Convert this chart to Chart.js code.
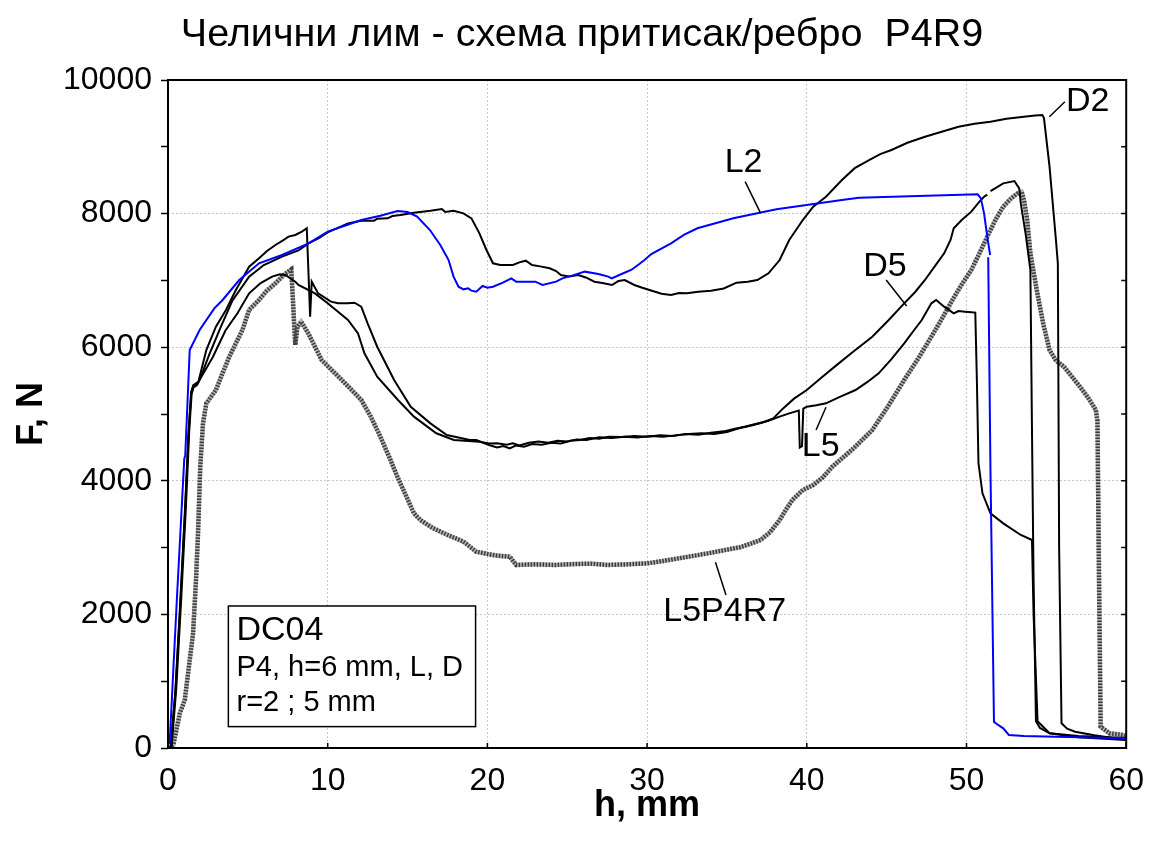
<!DOCTYPE html>
<html>
<head>
<meta charset="utf-8">
<title>Челични лим - P4R9</title>
<script src="https://cdn.jsdelivr.net/npm/chart.js@4.4.0/dist/chart.umd.min.js"></script>
<style>
  html, body { margin: 0; padding: 0; background: #fff; }
</style>
</head>
<body>
<canvas id="chart" width="1158" height="851"></canvas>
<script>
// h in mm, F in N
const l2H = [0.10, 0.55, 1.02, 1.08, 1.36, 1.98, 2.90, 3.42, 4.46, 5.70, 7.14, 8.80, 10.00, 11.20, 12.10, 13.30, 14.37, 15.00, 15.60, 16.40, 17.05, 17.57, 17.88, 18.19, 18.50, 18.80, 19.00, 19.30, 19.70, 20.00, 20.35, 20.97, 21.50, 21.80, 22.40, 23.00, 23.45, 24.30, 24.70, 25.30, 26.10, 26.95, 27.57, 27.78, 28.40, 29.00, 29.43, 29.84, 30.26, 31.50, 32.30, 33.15, 35.40, 38.10, 42.20, 43.26, 50.70, 50.90, 51.10, 51.30, 51.48, 51.42, 51.36, 51.50, 51.72, 51.83, 52.30, 52.65, 53.60, 55.60, 60.00];
const l2F = [60, 2200, 4330, 4380, 5958, 6257, 6582, 6707, 7006, 7256, 7380, 7555, 7730, 7830, 7904, 7969, 8039, 8024, 7954, 7754, 7530, 7305, 7056, 6906, 6866, 6881, 6846, 6831, 6916, 6890, 6906, 6966, 7031, 6981, 6981, 6981, 6931, 6981, 7031, 7071, 7131, 7096, 7056, 7031, 7096, 7156, 7231, 7305, 7395, 7555, 7680, 7780, 7929, 8064, 8204, 8238, 8288, 8228, 8004, 7655, 7380, null, 7345, 4162, 394, 370, 295, 195, 180, 170, 145];

const d2H = [0.15, 0.45, 0.75, 1.05, 1.28, 1.45, 1.60, 1.85, 2.20, 2.60, 3.30, 4.04, 5.08, 6.00, 7.14, 8.17, 8.80, 9.50, 10.00, 11.27, 12.10, 12.90, 13.10, 13.75, 14.05, 14.57, 15.40, 16.43, 17.15, 17.36, 17.88, 18.50, 19.00, 19.50, 19.94, 20.35, 20.80, 21.60, 22.00, 22.40, 22.80, 23.30, 23.90, 24.30, 24.60, 25.10, 25.70, 26.20, 26.70, 27.20, 27.80, 28.20, 28.60, 29.20, 29.70, 30.30, 30.90, 31.50, 32.00, 32.50, 33.20, 34.00, 34.80, 35.60, 36.30, 36.90, 37.60, 38.30, 38.90, 39.75, 40.40, 41.20, 42.20, 43.00, 43.90, 44.60, 45.30, 46.30, 47.40, 48.50, 49.50, 50.50, 51.50, 52.50, 53.60, 54.30, 54.75, 54.85, 55.20, 55.60, 55.72, 55.75, 55.80, 55.95, 56.30, 56.80, 58.00, 60.00];
const d2F = [0, 800, 2100, 3500, 4700, 5300, 5430, 5450, 5650, 5900, 6300, 6700, 7056, 7230, 7355, 7450, 7555, 7640, 7720, 7854, 7894, 7894, 7924, 7929, 7964, 7979, 8014, 8044, 8069, 8024, 8044, 8004, 7929, 7705, 7455, 7256, 7231, 7231, 7270, 7295, 7231, 7210, 7181, 7140, 7081, 7060, 7081, 7040, 6981, 6960, 6931, 6990, 7006, 6931, 6890, 6846, 6800, 6781, 6810, 6806, 6830, 6846, 6880, 6966, 6980, 7006, 7106, 7305, 7605, 7904, 8104, 8253, 8503, 8680, 8802, 8890, 8952, 9060, 9151, 9230, 9301, 9345, 9376, 9420, 9451, 9470, 9476, 9430, 8703, 7605, 7256, 5700, 3000, 370, 290, 244, 190, 120];

const l5H = [0.18, 0.48, 0.78, 1.08, 1.30, 1.45, 1.58, 1.75, 1.90, 2.40, 3.00, 3.63, 4.25, 5.08, 5.70, 6.20, 6.73, 7.20, 7.55, 7.97, 8.38, 8.69, 8.90, 9.00, 9.40, 10.20, 10.65, 11.27, 11.68, 12.10, 12.50, 13.10, 14.16, 15.20, 16.43, 17.46, 18.90, 19.30, 20.10, 20.60, 21.00, 21.40, 21.80, 22.30, 22.80, 23.40, 24.00, 24.60, 25.20, 25.80, 26.40, 27.00, 27.60, 28.40, 29.20, 30.00, 30.80, 31.60, 32.40, 33.20, 34.00, 34.80, 35.50, 36.20, 36.90, 37.60, 38.30, 38.90, 39.50, 39.56, 39.70, 39.78, 40.00, 40.60, 41.20, 42.00, 43.05, 43.80, 44.50, 45.30, 46.10, 46.70, 47.20, 47.80, 48.10, 48.60, 49.20, 49.50, 49.90, 50.30, 50.55, 50.65, 50.75, 51.00, 51.50, 52.30, 53.40, 54.10, 54.20, 54.45, 55.20, 57.00, 60.00];
const l5F = [0, 900, 2200, 3600, 4750, 5330, 5430, 5460, 5480, 5958, 6307, 6557, 6856, 7205, 7330, 7440, 7530, 7600, 7655, 7680, 7730, 7780, 6457, 6981, 6806, 6682, 6657, 6657, 6666, 6606, 6357, 6007, 5509, 5109, 4860, 4686, 4611, 4611, 4536, 4500, 4520, 4486, 4530, 4510, 4550, 4540, 4570, 4560, 4600, 4610, 4640, 4630, 4660, 4655, 4670, 4660, 4680, 4670, 4700, 4690, 4720, 4740, 4780, 4810, 4850, 4900, 4960, 5010, 5050, 4500, 4520, 5080, 5109, 5130, 5160, 5250, 5359, 5480, 5609, 5820, 6058, 6250, 6407, 6657, 6707, 6607, 6507, 6540, 6532, 6525, 6517, 5500, 4262, 3812, 3513, 3363, 3189, 3114, 2000, 400, 220, 180, 150];

const d5H = [0.22, 0.52, 0.82, 1.12, 1.33, 1.48, 1.60, 1.80, 2.10, 2.80, 3.60, 4.35, 5.08, 5.80, 6.52, 7.00, 7.35, 7.97, 8.17, 9.20, 10.00, 11.27, 11.90, 12.30, 13.10, 14.40, 15.40, 16.80, 17.90, 19.50, 20.10, 20.60, 21.20, 21.60, 22.00, 22.60, 23.20, 23.80, 24.40, 25.00, 25.60, 26.20, 27.00, 27.80, 28.60, 29.40, 30.20, 31.00, 31.80, 32.60, 33.40, 34.20, 35.00, 35.80, 36.60, 37.30, 37.90, 38.50, 39.20, 40.00, 41.00, 42.00, 43.00, 44.10, 45.10, 46.10, 46.80, 47.40, 48.00, 48.60, 49.00, 49.20, 49.70, 50.30, 50.90, 51.10, 51.30, 51.42, 51.50, 52.30, 53.00, 53.30, 53.40, 53.70, 54.00, 54.10, 54.20, 54.35, 54.60, 55.20, 57.00, 60.00];
const d5F = [0, 900, 2200, 3600, 4750, 5300, 5400, 5430, 5560, 5850, 6250, 6507, 6806, 6960, 7056, 7090, 7081, 6981, 6931, 6806, 6657, 6407, 6207, 5908, 5559, 5210, 4960, 4711, 4611, 4586, 4560, 4561, 4540, 4560, 4530, 4570, 4590, 4570, 4600, 4590, 4620, 4610, 4650, 4640, 4660, 4650, 4670, 4660, 4680, 4700, 4710, 4700, 4730, 4790, 4840, 4880, 4935, 5080, 5230, 5359, 5560, 5758, 5950, 6157, 6400, 6657, 6830, 7006, 7206, 7405, 7605, 7780, 7904, 8029, 8204, 8253, 8285, null, 8335, 8453, 8488, 8378, 8154, 7700, 7156, 4760, 2500, 400, 300, 220, 160, 120];

const r7H = [0.10, 0.33, 0.74, 1.05, 1.30, 1.57, 1.75, 1.88, 2.02, 2.19, 2.40, 3.00, 3.40, 3.84, 4.25, 4.66, 5.08, 5.70, 6.20, 6.73, 7.20, 7.66, 7.72, 7.80, 7.97, 8.10, 8.34, 8.80, 9.62, 10.50, 11.30, 12.10, 12.70, 13.30, 13.90, 14.40, 14.90, 15.40, 15.80, 16.60, 17.50, 18.50, 19.30, 20.10, 20.60, 21.40, 21.80, 23.00, 24.20, 25.50, 26.50, 27.50, 28.80, 30.00, 31.00, 32.00, 33.00, 33.80, 34.80, 35.80, 36.50, 37.10, 37.70, 38.30, 38.70, 39.10, 39.75, 40.40, 41.00, 41.60, 42.90, 44.10, 45.10, 46.10, 47.00, 47.80, 48.40, 49.00, 49.60, 50.30, 50.80, 51.30, 51.80, 52.30, 52.80, 53.20, 53.45, 53.60, 53.80, 54.00, 54.40, 54.80, 55.20, 55.60, 56.10, 56.60, 57.10, 57.60, 58.10, 58.20, 58.30, 58.40, 58.95, 59.80, 60.00];
const r7F = [0, 45, 519, 719, 1200, 1717, 2500, 3214, 4211, 4860, 5160, 5359, 5600, 5858, 6060, 6257, 6557, 6707, 6850, 6956, 7070, 7156, 7166, 6806, 6033, 6300, 6382, 6200, 5808, 5600, 5409, 5210, 4960, 4660, 4330, 4040, 3780, 3513, 3413, 3290, 3190, 3090, 2939, 2900, 2880, 2864, 2740, 2750, 2740, 2754, 2760, 2740, 2750, 2764, 2800, 2840, 2880, 2914, 2960, 3004, 3060, 3114, 3230, 3413, 3570, 3713, 3862, 3937, 4050, 4211, 4480, 4760, 5120, 5509, 5840, 6157, 6400, 6657, 6900, 7156, 7400, 7655, 7900, 8104, 8230, 8303, 8328, 8200, 7904, 7405, 6856, 6357, 5958, 5800, 5709, 5560, 5409, 5250, 5060, 4900, 2500, 319, 220, 195, 180];

const xTicks = [0, 10, 20, 30, 40, 50, 60];
const yMax = 10000;

// curve names with their leader lines, in data units
const curveLabels = [
  { text: 'L2', at: [36.04, 8770], from: [36.14, 8478], to: [37.09, 8014] },
  { text: 'D2', at: [57.59, 9671], from: [56.16, 9675], to: [55.19, 9451] },
  { text: 'D5', at: [44.89, 7201], from: [44.97, 7006], to: [46.25, 6617] },
  { text: 'L5', at: [40.87, 4506], from: [40.58, 4760], to: [41.20, 5100] },
  { text: 'L5P4R7', at: [34.86, 2036], from: [34.94, 2290], to: [34.28, 2780] }
];

const infoBox = {
  corner1: [3.78, 2126], corner2: [19.26, 320], textX: 4.29,
  lines: [
    { text: 'DC04', y: 1617, size: 34 },
    { text: 'P4, h=6 mm, L, D', y: 1078, size: 29 },
    { text: 'r=2 ; 5 mm', y: 554, size: 29 }
  ]
};

const FONT = '"Liberation Sans", Arial, sans-serif';
Chart.defaults.font.family = FONT;
Chart.defaults.color = '#000';

const pts = (h, f) => h.map((x, i) => ({ x, y: f[i] }));

const datasets = [
  { data: pts(l2H, l2F), borderColor: '#0000ff', borderWidth: 2 },
  { data: pts(d2H, d2F), borderColor: '#000', borderWidth: 2 },
  { data: pts(l5H, l5F), borderColor: '#000', borderWidth: 2 },
  { data: pts(d5H, d5F), borderColor: '#000', borderWidth: 2 },
  // the L5P4R7 trace is a thick hatched grey band: dark dashes over a light base
  { data: pts(r7H, r7F), borderColor: '#3c3c3c', borderWidth: 4.5, borderDash: [1.5, 1.5] },
  { data: pts(r7H, r7F), borderColor: '#b4b4b4', borderWidth: 4.5 }
];

const decorations = {
  id: 'decorations',
  afterDatasetsDraw(chart) {
    const { ctx, chartArea: a, scales: { x, y } } = chart;
    const px = v => x.getPixelForValue(v);
    const py = v => y.getPixelForValue(v);
    ctx.save();

    // inward ticks on the right and bottom edges
    ctx.strokeStyle = '#000';
    ctx.lineWidth = 1.5;
    ctx.beginPath();
    for (let v = 0; v <= yMax; v += 1000) {
      ctx.moveTo(a.right, py(v));
      ctx.lineTo(a.right - 5, py(v));
    }
    xTicks.forEach(v => {
      ctx.moveTo(px(v), a.bottom);
      ctx.lineTo(px(v), a.bottom - 5);
    });
    ctx.stroke();

    ctx.lineWidth = 2;
    ctx.strokeRect(a.left, a.top, a.right - a.left, a.bottom - a.top);

    // curve names
    ctx.fillStyle = '#000';
    ctx.lineWidth = 1.5;
    ctx.font = '34px ' + FONT;
    ctx.textAlign = 'center';
    ctx.textBaseline = 'middle';
    curveLabels.forEach(l => {
      ctx.beginPath();
      ctx.moveTo(px(l.from[0]), py(l.from[1]));
      ctx.lineTo(px(l.to[0]), py(l.to[1]));
      ctx.stroke();
      ctx.fillText(l.text, px(l.at[0]), py(l.at[1]));
    });

    // material / setup box
    const bx = px(infoBox.corner1[0]), by = py(infoBox.corner1[1]);
    const bw = px(infoBox.corner2[0]) - bx, bh = py(infoBox.corner2[1]) - by;
    ctx.fillStyle = '#fff';
    ctx.fillRect(bx, by, bw, bh);
    ctx.lineWidth = 1.5;
    ctx.strokeRect(bx, by, bw, bh);
    ctx.fillStyle = '#000';
    ctx.textAlign = 'left';
    ctx.textBaseline = 'alphabetic';
    infoBox.lines.forEach(l => {
      ctx.font = l.size + 'px ' + FONT;
      ctx.fillText(l.text, px(infoBox.textX), py(l.y));
    });

    // chart title
    ctx.font = '39.5px ' + FONT;
    ctx.textAlign = 'center';
    ctx.fillText('Челични лим - схема притисак/ребро  P4R9', 582, 46);
    ctx.restore();
  }
};

new Chart(document.getElementById('chart'), {
  type: 'line',
  data: { datasets },
  options: {
    responsive: false,
    animation: false,
    layout: { padding: { left: 0, right: 21, top: 80, bottom: 0 } },
    elements: { point: { radius: 0 }, line: { tension: 0 } },
    plugins: { legend: { display: false }, tooltip: { enabled: false } },
    scales: {
      x: {
        type: 'linear', min: 0, max: 60,
        afterFit: s => { s.height = 103; },
        afterBuildTicks: s => { s.ticks = xTicks.map(v => ({ value: v })); },
        ticks: { font: { size: 32 }, padding: 14, maxRotation: 0 },
        grid: { color: '#c8c8c8', lineWidth: 1, drawTicks: false },
        border: { display: false, dash: [2, 2] },
        title: { display: true, text: 'h, mm', font: { size: 36, weight: 'bold' }, padding: { top: 0, bottom: 23 } }
      },
      y: {
        type: 'linear', min: 0, max: yMax,
        afterFit: s => { s.width = 168; },
        ticks: {
          stepSize: 1000, font: { size: 32 }, padding: 9,
          callback: v => (v % 2000 === 0 ? String(v) : '')
        },
        grid: {
          color: c => (c.tick && c.tick.value % 2000 === 0 ? '#c8c8c8' : 'rgba(0,0,0,0)'),
          lineWidth: 1, tickLength: 7, tickColor: '#000', tickWidth: 1.5, tickBorderDash: []
        },
        border: { display: false, dash: [2, 2] },
        title: { display: true, text: 'F, N', font: { size: 36, weight: 'bold' }, padding: { top: 10, bottom: 0 } }
      }
    }
  },
  plugins: [decorations]
});
</script>
</body>
</html>
